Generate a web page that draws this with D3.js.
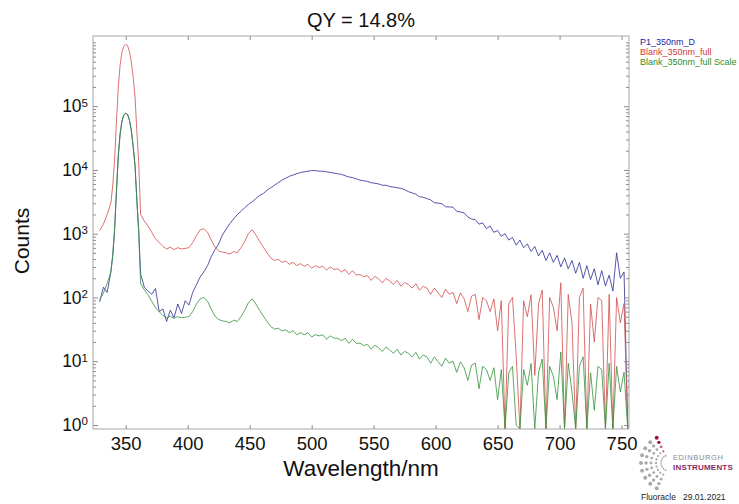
<!doctype html>
<html lang="en">
<head>
<meta charset="utf-8">
<script src="https://cdn.jsdelivr.net/npm/d3@7"></script>
<style>
    body { margin: 0; background: #fff; }
    svg { font-family: "Liberation Sans", Arial, sans-serif; }
</style>
</head>
<body>
<svg id="chart" width="739" height="504"></svg>
<script>
    // wavelength grid (nm); finer round the 350 nm peak
    var wavelengths = [
        329,332,335,338,339.5,341,342.5,344,345.5,347,
        348.5,350,351.5,353,354.5,356,357.5,359,360.5,362,
        365,368,371,374,377,380,383,386,
        389,392,395,398,401,404,407,410,413,416,
        419,422,425,428,431,434,437,440,443,446,
        449,452,455,458,461,464,467,470,473,476,
        479,482,485,488,491,494,497,500,503,506,
        509,512,515,518,521,524,527,530,533,536,
        539,542,545,548,551,554,557,560,563,566,
        569,572,575,578,581,584,587,590,593,596,
        599,602,605,608,611,614,617,620,623,626,
        629,632,635,638,641,644,647,650,653,656,
        659,662,665,668,671,674,677,680,683,686,
        689,692,695,698,701,704,707,710,713,716,
        719,722,725,728,731,734,737,740,743,746,
        749,752,755
    ];

    // P1_350nm_D
    var sampleCounts = [
        85,145,120,251,440,1100,4500,16600,37200,58900,
        72400,77600,74100,60300,41700,23400,11700,3310,1100,234,
        145,126,112,138,60,66,42,63,
        48,79,56,89,76,120,158,209,251,316,
        437,562,692,955,1175,1445,1700,1995,2240,2570,
        2880,3160,3550,3980,4270,4790,5250,5750,6310,6920,
        7410,7940,8320,8710,9120,9330,9550,9770,9770,9550,
        9550,9330,9120,8910,8710,8510,8130,7760,7590,7240,
        6920,6760,6610,6310,6170,6030,5750,5750,5500,5370,
        5250,5130,4900,4570,4370,4170,3800,3720,3550,3390,
        3050,3020,2950,2640,2630,2600,2250,2190,2120,1820,
        1700,1660,1410,1480,1200,1320,1050,1120,912,1000,
        794,871,661,794,603,692,525,631,447,550,
        380,501,355,457,302,417,282,380,240,355,
        200,316,191,282,158,263,151,224,126,501,
        200,251,0
    ];

    // Blank_350nm_full
    var blankCounts = [
        1120,1410,2000,3020,5620,14100,56200,200000,447000,708000,
        871000,933000,891000,724000,501000,282000,141000,39800,12600,2000,
        1580,1320,1050,832,724,631,575,617,
        562,603,575,589,603,724,933,1150,1200,1050,
        794,617,537,513,501,479,525,501,603,759,
        1000,1150,955,759,617,501,417,380,398,355,
        372,331,355,316,339,309,331,288,316,295,
        309,269,302,275,282,251,275,229,263,224,
        230,212,220,185,214,195,170,200,180,160,
        185,150,172,160,140,165,130,150,140,112,
        141,118,100,135,112,120,80,118,95,60,
        105,112,45,100,89,60,95,30,89,0,
        79,100,12,0,89,50,110,6,79,130,
        0,100,70,30,170,0,112,40,0,100,
        140,0,79,20,100,89,0,112,0,100,
        40,80,0
    ];

    // Blank_350nm_full Scale
    var blankScaledCounts = [
        93,117,166,251,468,1175,4680,16600,37200,58900,
        72400,77600,74100,60300,41700,23400,11700,3310,1050,166,
        132,110,87,69,60,52,48,51,
        47,50,48,49,50,60,78,95,100,87,
        66,51,45,43,42,40,44,42,50,63,
        83,95,79,63,51,42,35,32,33,30,
        31,28,30,26,28,26,28,24,26,25,
        26,22,25,23,23,21,23,19,22,19,
        19.2,17.7,18.3,15.4,17.8,16.3,14.2,16.7,15,13.3,
        15.4,12.5,14.3,13.3,11.7,13.8,10.8,12.5,11.7,9.3,
        11.7,9.8,8.3,11.2,9.3,10,6.7,9.8,7.9,5,
        8.7,9.3,3.7,8.3,7.4,5,7.9,2.5,7.4,0,
        6.6,8.3,1,0,7.4,4.2,9.2,0,6.6,10.8,
        0,8.3,5.8,2.5,14,0,9.3,3.3,0,8.3,
        11.7,0,6.6,1.7,8.3,7.4,0,9.3,0,8.3,
        3.3,6.7,0
    ];

    var seriesNames = ["P1_350nm_D", "Blank_350nm_full", "Blank_350nm_full Scale"];
    var seriesColors = ["#2e2e96", "#d0504e", "#35953a"];
    var legendColors = ["#2424a0", "#d03a36", "#2a8f2e"];
    var xTicks = [350, 400, 450, 500, 550, 600, 650, 700, 750];
    var yMajor = [1, 10, 100, 1000, 10000, 100000];

    var svg = d3.select("#chart");
    var box = {left: 93, right: 629, top: 36, bottom: 429};

    var x = d3.scaleLinear().domain([323.6, 756]).range([box.left, box.right]);
    var y = d3.scaleLog().domain([0.865, 1.26e6]).range([box.bottom, box.top]).clamp(true);

    var yMinor = [];
    for (var p = 0; p < 6; p++) {
        for (var m = 2; m <= 9; m++) yMinor.push(m * Math.pow(10, p));
    }
    yMinor.push(1e6);

    var tickColor = "#8c8c8c";

    svg.append("clipPath").attr("id", "plotclip")
        .append("rect")
        .attr("x", box.left).attr("y", box.top)
        .attr("width", box.right - box.left).attr("height", box.bottom - box.top);

    // lines
    var line = d3.line()
        .x(function(d) { return x(d[0]); })
        .y(function(d) { return y(d[1]); });

    var allSeries = [sampleCounts, blankCounts, blankScaledCounts];
    var plot = svg.append("g").attr("clip-path", "url(#plotclip)");
    allSeries.forEach(function(vals, i) {
        var pts = wavelengths.map(function(w, j) { return [w, vals[j]]; });
        plot.append("path")
            .attr("fill", "none")
            .attr("stroke", seriesColors[i])
            .attr("stroke-width", 0.9)
            .attr("stroke-linejoin", "round")
            .attr("opacity", 0.9)
            .attr("d", line(pts));
    });

    // frame
    svg.append("rect")
        .attr("x", box.left).attr("y", box.top)
        .attr("width", box.right - box.left).attr("height", box.bottom - box.top)
        .attr("fill", "none").attr("stroke", "#a8a8a8").attr("stroke-width", 1);

    function styleAxis(g) {
        g.select(".domain").remove();
        g.selectAll(".tick line").attr("stroke", tickColor);
    }

    // bottom axis with labels
    var xAxisG = svg.append("g")
        .attr("transform", "translate(0," + box.bottom + ")")
        .call(d3.axisBottom(x).tickValues(xTicks).tickSizeInner(-4).tickSizeOuter(0).tickPadding(8))
        .call(styleAxis);
    xAxisG.selectAll(".tick text")
        .attr("font-size", "18.5px").attr("fill", "#111")
        .attr("font-family", "Liberation Sans, Arial, sans-serif");

    // top axis, ticks only
    svg.append("g")
        .attr("transform", "translate(0," + box.top + ")")
        .call(d3.axisTop(x).tickValues(xTicks).tickSizeInner(-4).tickSizeOuter(0).tickFormat(""))
        .call(styleAxis);

    // left axis
    var yAxisG = svg.append("g")
        .attr("transform", "translate(" + box.left + ",0)")
        .call(d3.axisLeft(y).tickValues(yMajor).tickSizeInner(-5).tickSizeOuter(0).tickPadding(5))
        .call(styleAxis);
    yAxisG.selectAll(".tick text").each(function(d) {
        var t = d3.select(this);
        t.text(null)
            .attr("font-size", "17.5px").attr("fill", "#111")
            .attr("font-family", "Liberation Sans, Arial, sans-serif");
        t.append("tspan").text("10");
        t.append("tspan").attr("dy", "-0.5em").attr("font-size", "11.5px")
            .text(Math.round(Math.log10(d)));
    });
    svg.append("g")
        .attr("transform", "translate(" + box.left + ",0)")
        .call(d3.axisLeft(y).tickValues(yMinor).tickSizeInner(-3).tickSizeOuter(0).tickFormat(""))
        .call(styleAxis);

    // right axis, ticks only
    svg.append("g")
        .attr("transform", "translate(" + box.right + ",0)")
        .call(d3.axisRight(y).tickValues(yMajor).tickSizeInner(-5).tickSizeOuter(0).tickFormat(""))
        .call(styleAxis);
    svg.append("g")
        .attr("transform", "translate(" + box.right + ",0)")
        .call(d3.axisRight(y).tickValues(yMinor).tickSizeInner(-3).tickSizeOuter(0).tickFormat(""))
        .call(styleAxis);

    // titles
    svg.append("text")
        .attr("x", (box.left + box.right) / 2).attr("y", 27)
        .attr("text-anchor", "middle")
        .attr("font-size", "20px").attr("fill", "#111")
        .text("QY = 14.8%");

    svg.append("text")
        .attr("x", (box.left + box.right) / 2).attr("y", 476)
        .attr("text-anchor", "middle")
        .attr("font-size", "22.5px").attr("fill", "#111")
        .text("Wavelength/nm");

    svg.append("text")
        .attr("transform", "translate(29,241) rotate(-90)")
        .attr("text-anchor", "middle")
        .attr("font-size", "21px").attr("fill", "#111")
        .text("Counts");

    // legend
    svg.selectAll(".legend")
        .data(seriesNames)
        .enter().append("text")
        .attr("class", "legend")
        .attr("x", 640)
        .attr("y", function(d, i) { return 45 + i * 10; })
        .attr("font-size", "9px")
        .attr("fill", function(d, i) { return legendColors[i]; })
        .text(function(d) { return d; });

    // Edinburgh Instruments logo
    var logo = svg.append("g").attr("transform", "translate(669,463)");
    var rayAngles = [-64, -48, -32, -16, 0, 16, 32, 48, 64];
    var rayRadii = [8, 13, 18, 23, 28];
    rayAngles.forEach(function(a, i) {
        var rad = a * Math.PI / 180;
        rayRadii.forEach(function(r, k) {
            logo.append("circle")
                .attr("cx", -r * Math.cos(rad))
                .attr("cy", r * Math.sin(rad))
                .attr("r", 0.85 + k * 0.28)
                .attr("fill", i === 0 ? (k > 2 ? "#a0103c" : "#c0607a") : "#a9a9a9");
        });
    });
    svg.append("text").attr("x", 673).attr("y", 460)
        .attr("font-size", "7.5px").attr("fill", "#8a8a8a").attr("letter-spacing", "0.6")
        .text("EDINBURGH");
    svg.append("text").attr("x", 673).attr("y", 470)
        .attr("font-size", "8px").attr("font-weight", "600")
        .attr("fill", "#8a2a5e").attr("letter-spacing", "0.2")
        .text("INSTRUMENTS");
    svg.append("text").attr("x", 641).attr("y", 500)
        .attr("font-size", "8.5px").attr("fill", "#222")
        .attr("xml:space", "preserve")
        .text("Fluoracle   29.01.2021");
</script>
</body>
</html>
